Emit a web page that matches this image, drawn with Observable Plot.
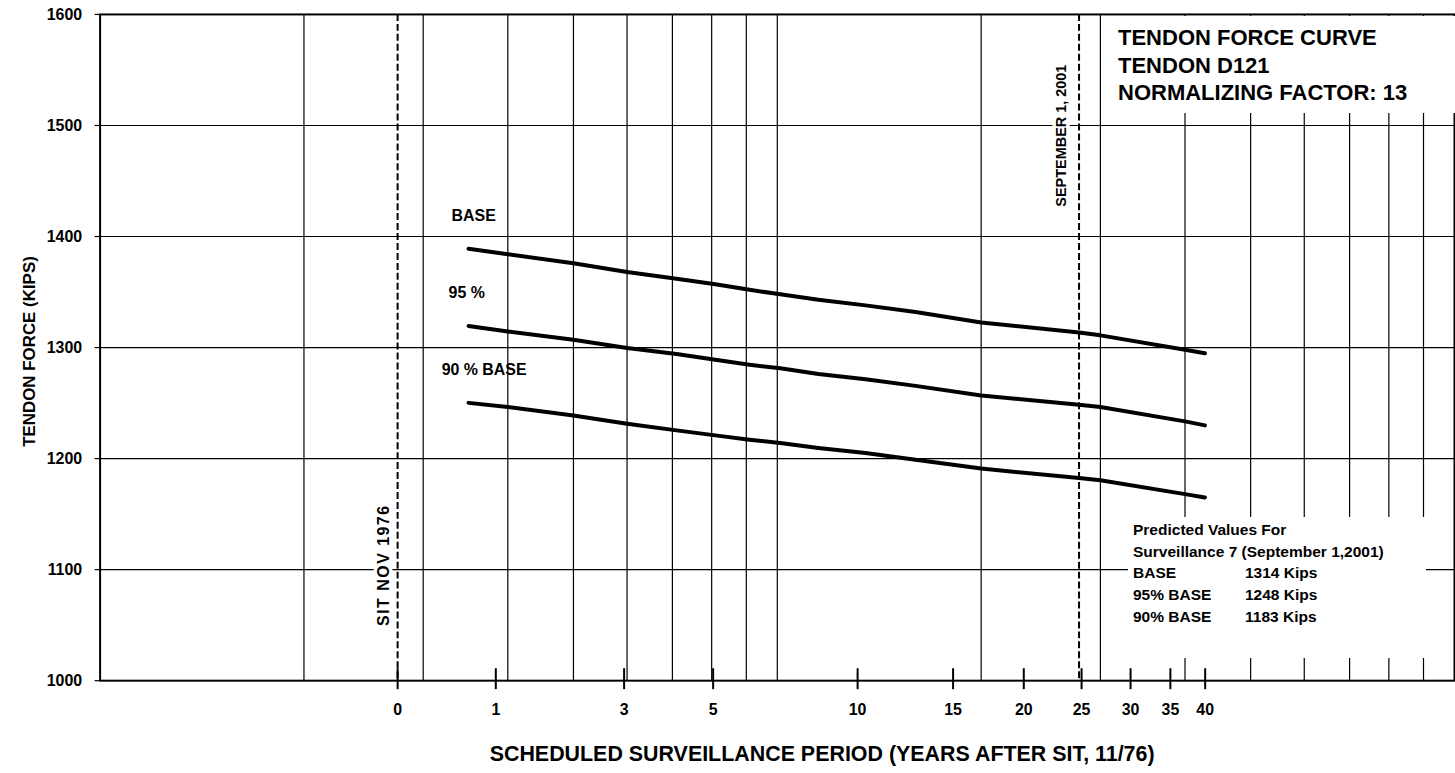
<!DOCTYPE html>
<html>
<head>
<meta charset="utf-8">
<script src="https://cdn.jsdelivr.net/npm/d3@7"></script>
<script src="https://cdn.jsdelivr.net/npm/@observablehq/plot@0.6"></script>
<style>
  html, body { margin: 0; padding: 0; background: #fff; overflow: hidden; }
  #wrap { position: relative; width: 1455px; height: 773px; overflow: hidden;
          font-family: Arial, "Liberation Sans", sans-serif; color: #000; }
  #wrap svg { position: absolute; left: 0; top: 0; }
  g[aria-label="x-axis tick label"], g[aria-label="y-axis tick label"] { font-weight: bold; font-size: 16px; }
  .box { position: absolute; background: #fff; font-weight: bold; white-space: nowrap; }
  #titleBox { left: 1110px; top: 16px; width: 345px; height: 97px; font-size: 22px; line-height: 27.5px; padding-top: 8px; box-sizing: border-box; }
  #titleBox div { padding-left: 8px; }
  #predBox { left: 1128px; top: 517px; width: 298px; height: 141px; font-size: 15.5px; line-height: 21.7px; padding-top: 2px; box-sizing: border-box; }
  #predBox .row { padding-left: 5px; }
  #predBox .name { display: inline-block; width: 112px; }
</style>
</head>
<body>
<div id="wrap"></div>
<script>
// ---- data (x values are positions on the chart's log axis; labels give years after SIT) ----
const seriesNames = ["BASE", "95 %", "90 % BASE"];
const lineV      = [3.5, 4, 5, 6, 7.1, 8.1, 9.1, 10.1, 11.5, 13.5, 16, 20, 27.9, 30, 40, 42.8];
const baseKips   = [1389, 1384, 1376, 1368, 1362, 1357, 1352, 1348, 1343, 1338, 1332, 1322.6, 1313.6, 1311, 1298, 1294.8];
const pct95Kips  = [1319.5, 1314.5, 1307, 1299.6, 1294.2, 1289, 1284.6, 1281.3, 1276.2, 1271.5, 1265.5, 1256.8, 1248.4, 1246.5, 1233.5, 1229.9];
const pct90Kips  = [1250.2, 1246.4, 1238.8, 1231.4, 1225.4, 1220.9, 1217, 1214, 1209.6, 1205, 1199, 1191, 1182.5, 1180.5, 1168, 1165];

const xTickPos    = [2.75, 3.84, 5.94, 8.04, 13.14, 18.18, 23.12, 28.14, 33.24, 38.06, 42.84];
const xTickLabels = ["0", "1", "3", "5", "10", "15", "20", "25", "30", "35", "40"];
const gridV  = [2, 3, 4, 5, 6, 7, 8, 9, 10, 20, 30, 40, 50, 60, 70, 80, 90];
const yTicks = [1000, 1100, 1200, 1300, 1400, 1500, 1600];
const yGrid  = [1100, 1200, 1300, 1400, 1500];
const yDomain = [1000, 1600];
const xDomain = [1, 100];

const eventV      = [2.75, 27.9];
const eventLabels = ["SIT NOV 1976", "SEPTEMBER 1, 2001"];

const titleLines      = ["TENDON FORCE CURVE", "TENDON D121", "NORMALIZING FACTOR: 13"];
const predictedHeader = ["Predicted Values For", "Surveillance 7 (September 1,2001)"];
const predictedNames  = ["BASE", "95% BASE", "90% BASE"];
const predictedKips   = [1314, 1248, 1183];

const xTitle = "SCHEDULED SURVEILLANCE PERIOD (YEARS AFTER SIT, 11/76)";
const yTitle = "TENDON FORCE (KIPS)";

// ---- build table ----
const seriesKips = [baseKips, pct95Kips, pct90Kips];
const rows = seriesNames.flatMap((s, i) => lineV.map((v, j) => ({series: s, v, kips: seriesKips[i][j]})));
const labelRows = seriesNames.map((s, i) => ({series: s, v: lineV[0], kips: seriesKips[i][0]}));
const labelDx = [-17, -20, -27];

const FONT = "Arial, 'Liberation Sans', sans-serif";

const chart = Plot.plot({
  width: 1461, height: 773,
  marginLeft: 100, marginRight: 1, marginTop: 14, marginBottom: 90,
  style: {fontFamily: FONT, color: "#000", background: "#fff"},
  x: {type: "log", domain: xDomain},
  y: {domain: yDomain},
  marks: [
    Plot.gridX(gridV, {stroke: "#000", strokeOpacity: 1, strokeWidth: 1.2}),
    Plot.gridY(yGrid, {stroke: "#000", strokeOpacity: 1, strokeWidth: 1.2}),
    Plot.ruleX(eventV, {stroke: "#000", strokeWidth: 2, strokeDasharray: "7,3"}),
    Plot.line(rows, {x: "v", y: "kips", z: "series", stroke: "#000", strokeWidth: 4, strokeLinecap: "round"}),
    Plot.frame({stroke: "#000", strokeWidth: 2}),
    Plot.axisY(yTicks, {tickSize: 5, tickPadding: 13, fontSize: 16, fontWeight: "bold", label: null, strokeWidth: 1.2,
      tickFormat: d => String(d)}),
    Plot.axisX(xTickPos, {tickSize: 0, tickPadding: 23, fontSize: 16, fontWeight: "bold", label: null,
      tickFormat: d => xTickLabels[xTickPos.indexOf(d)]}),
    Plot.ruleX(xTickPos, {y1: yDomain[0], y2: yDomain[0], insetTop: -12, insetBottom: -9, stroke: "#000", strokeWidth: 2}),
    ...labelRows.map((r, i) => Plot.text([r], {x: "v", y: "kips", text: "series", textAnchor: "start",
      dx: labelDx[i], dy: -33, fontSize: 16, fontWeight: "bold", fill: "#000"})),
    Plot.text([eventLabels[0]], {x: eventV[0], frameAnchor: "bottom", text: d => d, rotate: -90,
      textAnchor: "start", lineAnchor: "middle", dx: -14, dy: -55, fontSize: 16, fontWeight: "bold", fill: "#000",
      stroke: "#fff", strokeWidth: 7}),
    Plot.text([eventLabels[1]], {x: eventV[1], frameAnchor: "top", text: d => d, rotate: -90,
      textAnchor: "start", lineAnchor: "middle", dx: -18, dy: 193, fontSize: 14.5, fontWeight: "bold", fill: "#000",
      stroke: "#fff", strokeWidth: 7}),
    Plot.text([xTitle], {frameAnchor: "bottom", text: d => d, textAnchor: "middle", lineAnchor: "middle",
      dx: 45, dy: 74, fontSize: 21.5, fontWeight: "bold", fill: "#000"}),
    Plot.text([yTitle], {frameAnchor: "left", text: d => d, rotate: -90, textAnchor: "middle", lineAnchor: "middle",
      dx: -71, dy: 4, fontSize: 17, fontWeight: "bold", fill: "#000"})
  ]
});

const wrap = document.getElementById("wrap");
wrap.appendChild(chart);

// letter spacing for SIT label
chart.querySelectorAll("text").forEach(t => {
  if (t.textContent === eventLabels[0]) t.setAttribute("letter-spacing", "1.5");
});

// annotation boxes
const tb = document.createElement("div");
tb.className = "box"; tb.id = "titleBox";
titleLines.forEach(s => { const d = document.createElement("div"); d.textContent = s; tb.appendChild(d); });
wrap.appendChild(tb);

const pb = document.createElement("div");
pb.className = "box"; pb.id = "predBox";
predictedHeader.forEach(s => { const d = document.createElement("div"); d.className = "row"; d.textContent = s; pb.appendChild(d); });
predictedNames.forEach((n, i) => {
  const d = document.createElement("div"); d.className = "row";
  const a = document.createElement("span"); a.className = "name"; a.textContent = n;
  const b = document.createElement("span"); b.textContent = predictedKips[i] + " Kips";
  d.appendChild(a); d.appendChild(b); pb.appendChild(d);
});
wrap.appendChild(pb);
</script>
</body>
</html>
